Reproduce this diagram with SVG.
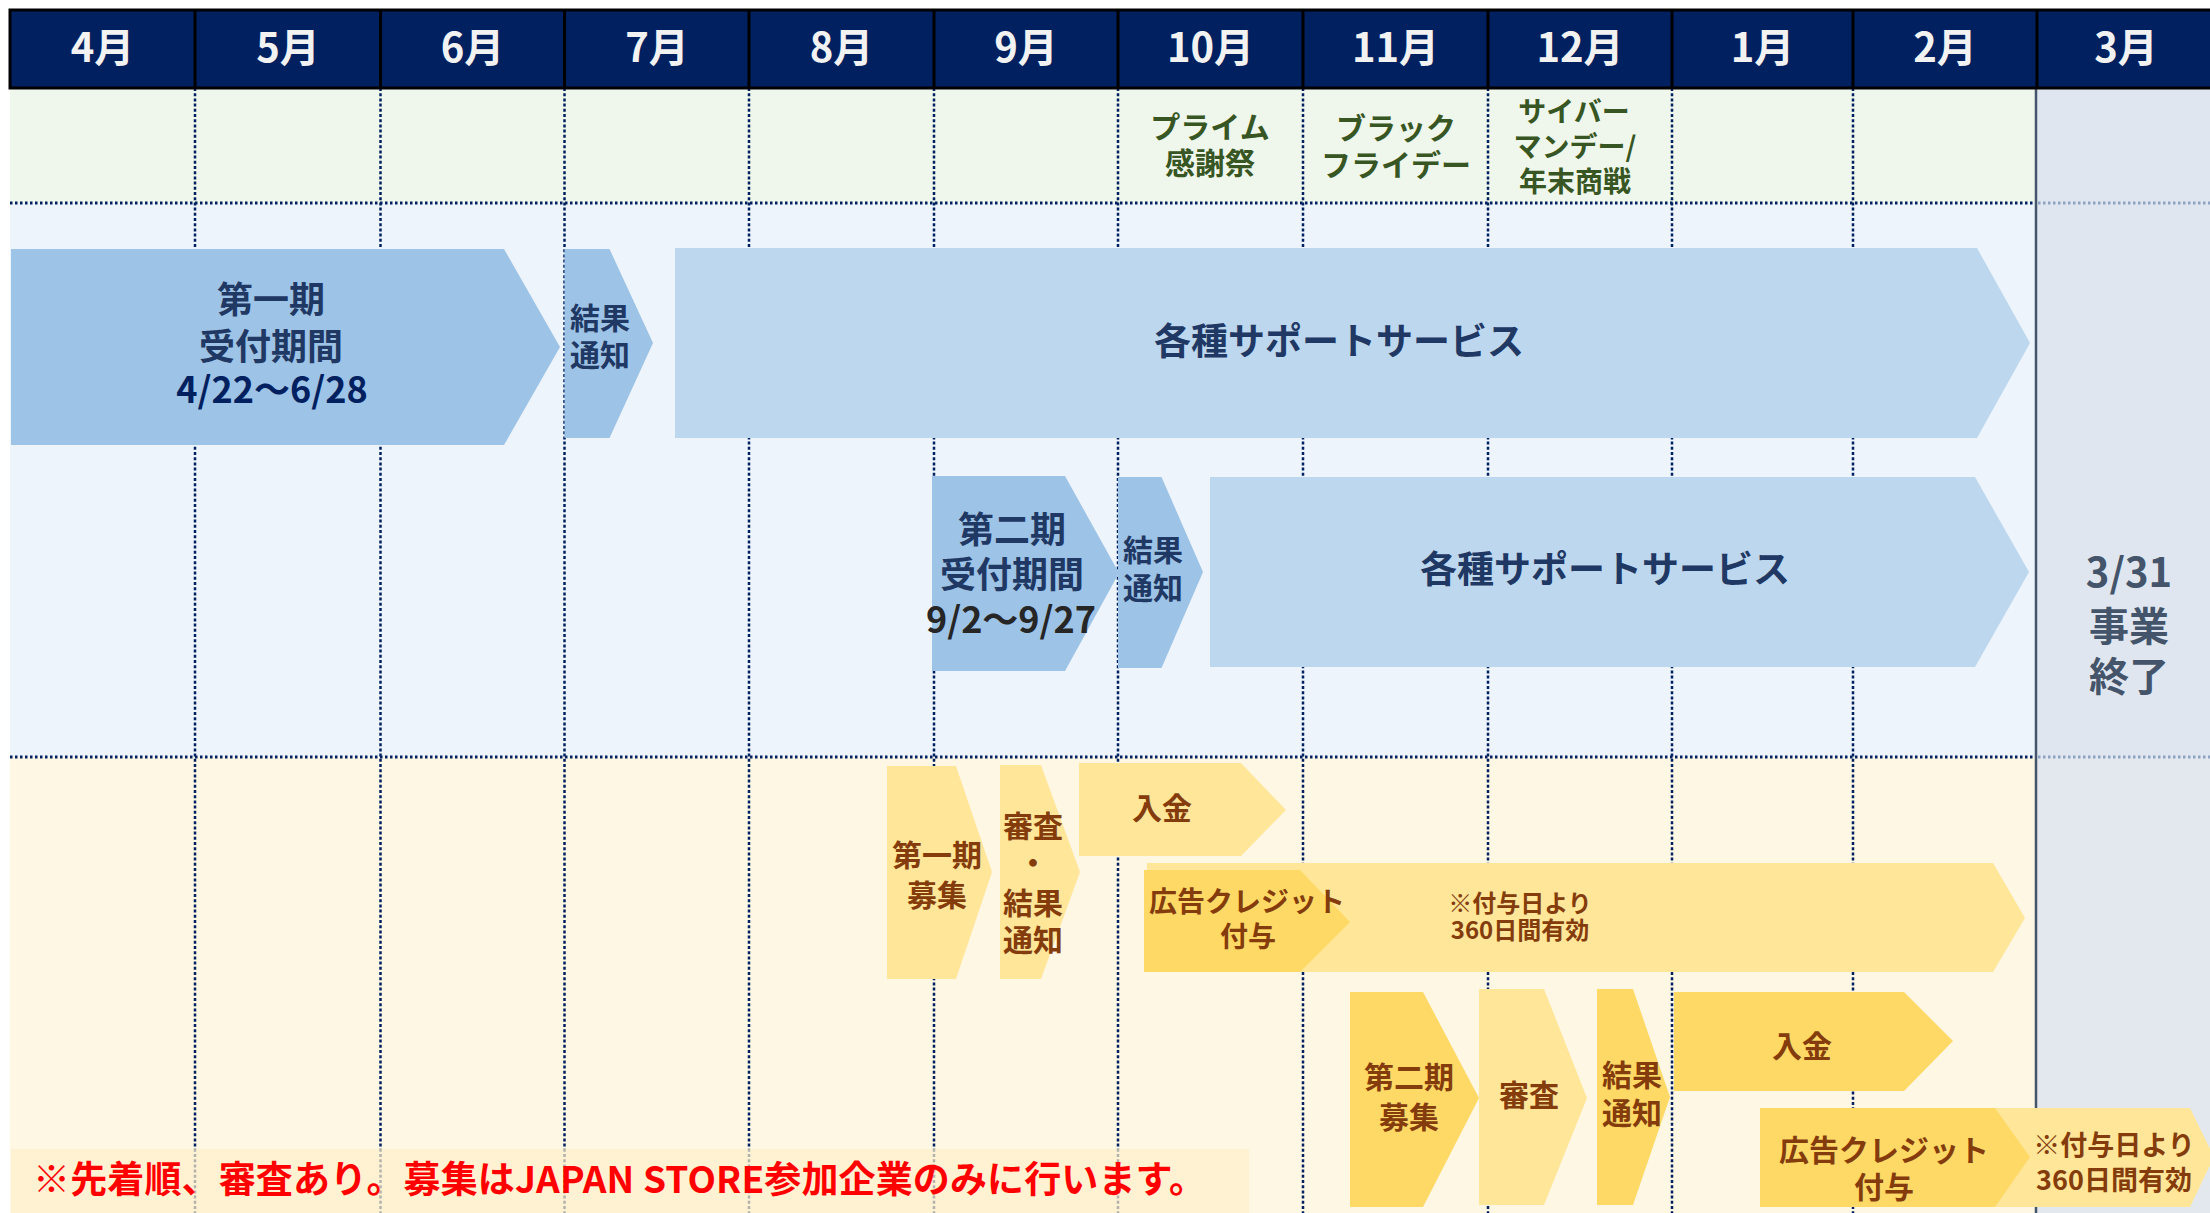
<svg xmlns="http://www.w3.org/2000/svg" width="2210" height="1213" viewBox="0 0 2210 1213">
<style>
text{font-family:"Noto Sans CJK JP","Noto Sans",sans-serif;font-weight:bold;text-anchor:middle}
.hd{fill:#F2F2F2;font-size:40px}
.ev{fill:#375623;font-size:30px}
.ev2{fill:#375623;font-size:28px}
.bt{fill:#1F3864}
.yt{fill:#843C0C;font-size:30px}
.vl{stroke:#002060;stroke-width:2.5;stroke-dasharray:3 2.2;fill:none}
.hl{stroke:#002060;stroke-width:3;stroke-dasharray:2.5 2.5;fill:none}
.hl3{stroke:#8EA2C2;stroke-width:3;stroke-dasharray:2.5 2.5;fill:none}
.b1{fill:#9DC3E6}
.b2{fill:#BDD7EE}
.y1{fill:#FFE699}
.y2{fill:#FFD966}
</style>
<rect x="0" y="0" width="2210" height="1213" fill="#FFFFFF"/>
<g id="background">
<rect x="10" y="88" width="2027" height="115" fill="#EFF6EB"/>
<rect x="10" y="203" width="2027" height="554" fill="#EDF4FB"/>
<rect x="10" y="757" width="2027" height="456" fill="#FEF7E4"/>
<rect x="2037" y="88" width="173" height="669" fill="#DFE6F0"/>
<rect x="2037" y="757" width="173" height="456" fill="#E3E8EF"/>
</g>
<g id="gridlines">
<line class="vl" x1="195" y1="88" x2="195" y2="1213"/>
<line class="vl" x1="380.5" y1="88" x2="380.5" y2="1213"/>
<line class="vl" x1="564.5" y1="88" x2="564.5" y2="1213"/>
<line class="vl" x1="749" y1="88" x2="749" y2="1213"/>
<line class="vl" x1="934" y1="88" x2="934" y2="1213"/>
<line class="vl" x1="1118" y1="88" x2="1118" y2="1213"/>
<line class="vl" x1="1303" y1="88" x2="1303" y2="1213"/>
<line class="vl" x1="1488" y1="88" x2="1488" y2="1213"/>
<line class="vl" x1="1672" y1="88" x2="1672" y2="1213"/>
<line class="vl" x1="1853" y1="88" x2="1853" y2="1213"/>
<line class="hl" x1="10" y1="203" x2="2036" y2="203"/>
<line class="hl" x1="10" y1="757" x2="2036" y2="757"/>
<line class="hl3" x1="2038" y1="203" x2="2210" y2="203"/>
<line class="hl3" x1="2038" y1="757" x2="2210" y2="757"/>
<line x1="2036" y1="88" x2="2036" y2="1213" stroke="#44546A" stroke-width="2.5"/>
</g>
<g id="header">
<rect x="10" y="10" width="2210" height="78" fill="#002060" stroke="#000000" stroke-width="3"/>
<g stroke="#000000" stroke-width="3">
<line x1="195" y1="10" x2="195" y2="88"/>
<line x1="380.5" y1="10" x2="380.5" y2="88"/>
<line x1="564.5" y1="10" x2="564.5" y2="88"/>
<line x1="749" y1="10" x2="749" y2="88"/>
<line x1="934" y1="10" x2="934" y2="88"/>
<line x1="1118" y1="10" x2="1118" y2="88"/>
<line x1="1303" y1="10" x2="1303" y2="88"/>
<line x1="1488" y1="10" x2="1488" y2="88"/>
<line x1="1672" y1="10" x2="1672" y2="88"/>
<line x1="1853" y1="10" x2="1853" y2="88"/>
<line x1="2037" y1="10" x2="2037" y2="88"/>
</g>
<text class="hd" x="102.5" y="62">4月</text>
<text class="hd" x="288" y="62">5月</text>
<text class="hd" x="472.5" y="62">6月</text>
<text class="hd" x="657" y="62">7月</text>
<text class="hd" x="841.5" y="62">8月</text>
<text class="hd" x="1026" y="62">9月</text>
<text class="hd" x="1210.5" y="62">10月</text>
<text class="hd" x="1395.5" y="62">11月</text>
<text class="hd" x="1580" y="62">12月</text>
<text class="hd" x="1762.5" y="62">1月</text>
<text class="hd" x="1945" y="62">2月</text>
<text class="hd" x="2126" y="62">3月</text>
</g>
<g id="event-prime">
<text class="ev"><tspan x="1210" y="138">プライム</tspan><tspan x="1210" y="174">感謝祭</tspan></text>
</g>
<g id="event-blackfriday">
<text class="ev"><tspan x="1396" y="139">ブラック</tspan><tspan x="1396" y="176">フライデー</tspan></text>
</g>
<g id="event-cybermonday">
<text class="ev2"><tspan x="1574" y="122">サイバー</tspan><tspan x="1575" y="157">マンデー/</tspan><tspan x="1575" y="192">年末商戦</tspan></text>
</g>
<g id="phase1-period">
<polygon class="b1" points="11,249 504,249 560,347 504,445 11,445"/>
<text class="bt" font-size="36"><tspan x="271" y="313">第一期</tspan><tspan x="271" y="360">受付期間</tspan><tspan x="272" y="403" fill="#002060">4/22～6/28</tspan></text>
</g>
<g id="phase1-result">
<polygon class="b1" points="564.5,249 609.5,249 653,343 609.5,438 564.5,438"/>
<text class="bt" font-size="30"><tspan x="600" y="329">結果</tspan><tspan x="600" y="366">通知</tspan></text>
</g>
<g id="phase1-support">
<polygon class="b2" points="675,248 1977,248 2030,343 1977,438 675,438"/>
<text class="bt" font-size="37" x="1339" y="355">各種サポートサービス</text>
</g>
<g id="phase2-period">
<polygon class="b1" points="932,476 1065,476 1119,573 1065,671 932,671"/>
<text class="bt" font-size="36"><tspan x="1012" y="543">第二期</tspan><tspan x="1012" y="588">受付期間</tspan><tspan x="1011" y="633" fill="#262626">9/2～9/27</tspan></text>
</g>
<g id="phase2-result">
<polygon class="b1" points="1118,477 1161.5,477 1203,572 1161.5,668 1118,668"/>
<text class="bt" font-size="30"><tspan x="1153" y="561">結果</tspan><tspan x="1153" y="599">通知</tspan></text>
</g>
<g id="phase2-support">
<polygon class="b2" points="1210,477 1975,477 2029,572 1975,667 1210,667"/>
<text class="bt" font-size="37" x="1605" y="583">各種サポートサービス</text>
</g>
<g id="end">
<text fill="#44546A" font-size="40"><tspan x="2129" y="587">3/31</tspan><tspan x="2129" y="641">事業</tspan><tspan x="2129" y="691">終了</tspan></text>
</g>
<g id="y-phase1-recruit">
<polygon class="y1" points="887,766 956,766 992,872 956,979 887,979"/>
<text class="yt"><tspan x="937" y="866">第一期</tspan><tspan x="937" y="906">募集</tspan></text>
</g>
<g id="y-phase1-review">
<polygon class="y1" points="1000,765 1041,765 1080,872 1041,979 1000,979"/>
<text class="yt"><tspan x="1033" y="837">審査</tspan><tspan x="1033" y="874">・</tspan><tspan x="1033" y="914">結果</tspan><tspan x="1033" y="951">通知</tspan></text>
</g>
<g id="y-phase1-payment">
<polygon class="y1" points="1079,763 1241,763 1286,810 1241,856 1079,856"/>
<text class="yt" x="1162" y="819">入金</text>
</g>
<g id="y-phase1-validity">
<polygon class="y1" points="1147,863 1993,863 2025,918 1993,972 1147,972"/>
<text class="yt" style="font-size:24px"><tspan x="1520" y="912">※付与日より</tspan><tspan x="1520" y="939">360日間有効</tspan></text>
</g>
<g id="y-phase1-credit">
<polygon class="y2" points="1144,870 1300,870 1350,922 1300,972 1144,972"/>
<text class="yt" style="font-size:28px"><tspan x="1247" y="912">広告クレジット</tspan><tspan x="1248" y="947">付与</tspan></text>
</g>
<g id="y-phase2-recruit">
<polygon class="y2" points="1350,992 1423,992 1479,1098 1423,1207 1350,1207"/>
<text class="yt"><tspan x="1409" y="1088">第二期</tspan><tspan x="1409" y="1128">募集</tspan></text>
</g>
<g id="y-phase2-review">
<polygon class="y1" points="1479,989 1544,989 1587,1098 1544,1205 1479,1205"/>
<text class="yt" x="1529" y="1106">審査</text>
</g>
<g id="y-phase2-result">
<polygon class="y2" points="1597,989 1633,989 1670,1097 1633,1205 1597,1205"/>
<text class="yt"><tspan x="1632" y="1086">結果</tspan><tspan x="1632" y="1124">通知</tspan></text>
</g>
<g id="y-phase2-payment">
<polygon class="y2" points="1674,992 1904,992 1953,1041 1904,1091 1674,1091"/>
<text class="yt" x="1802" y="1057">入金</text>
</g>
<g id="y-phase2-validity">
<polygon class="y1" points="1990,1108 2190,1108 2214,1157 2190,1207 1990,1207"/>
<text class="yt" style="font-size:27px"><tspan x="2114" y="1155">※付与日より</tspan><tspan x="2114" y="1190">360日間有効</tspan></text>
</g>
<g id="y-phase2-credit">
<polygon class="y2" points="1760,1108 1995,1108 2030,1157 1995,1207 1760,1207"/>
<text class="yt"><tspan x="1884" y="1161">広告クレジット</tspan><tspan x="1884" y="1198">付与</tspan></text>
</g>
<g id="footnote">
<rect x="11" y="1149" width="1238" height="64" fill="#FDEFCC" fill-opacity="0.7"/>
<text fill="#FF0000" font-size="37" x="33" y="1193" style="text-anchor:start" textLength="1173" lengthAdjust="spacing">※先着順、審査あり。募集はJAPAN STORE参加企業のみに行います。</text>
</g>
<g id="connectors"/>
</svg>
